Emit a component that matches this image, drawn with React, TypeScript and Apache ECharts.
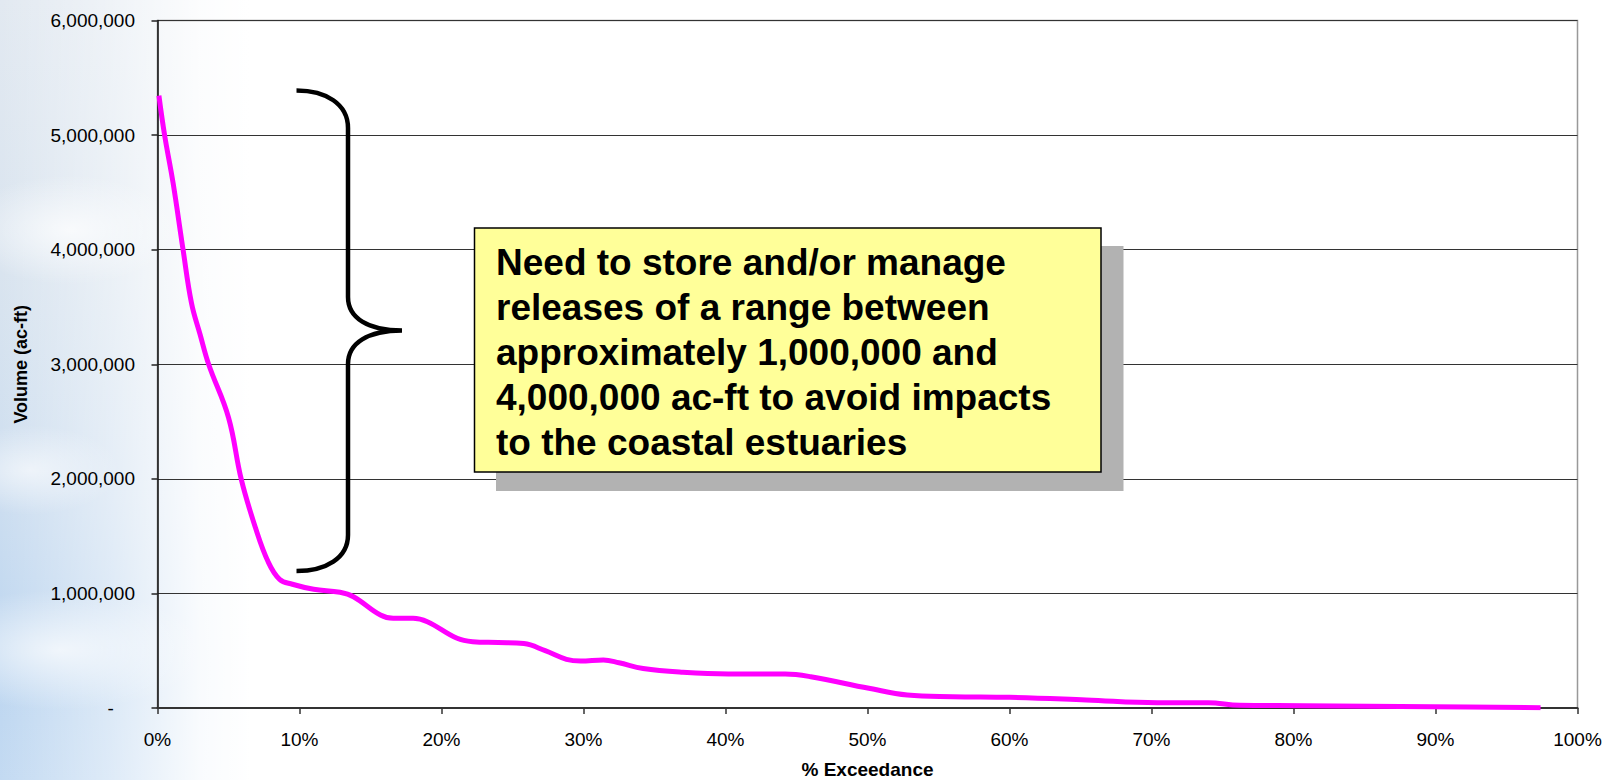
import React, { useEffect, useRef } from "react";
import * as echarts from "echarts";

// ---- data ----
const exceedancePct = [
  0.1, 0.5, 1.1, 1.8, 2.4, 3.0, 3.6, 5.0, 5.9, 6.9, 7.8, 8.6, 9.5, 11.0, 12.85,
  13.8, 15.7, 16.6, 18.0, 19.0, 21.1, 22.2, 24.0, 25.8, 27.3, 28.8, 29.8, 31.4,
  32.5, 34.2, 37.0, 40.2, 44.2, 46.0, 50.1, 52.8, 56.0, 60.0, 65.4, 70.4, 74.0,
  76.2, 80.7, 89.8, 97.4,
];
const volumeAcFt = [
  5345000, 5000000, 4580000, 4000000, 3530000, 3260000, 3000000, 2535000, 1995000,
  1573000, 1274000, 1123000, 1080000, 1036000, 1010000, 971000, 811000, 783000,
  783000, 753000, 608000, 579000, 572000, 562000, 500000, 425000, 410000, 419000,
  395000, 345000, 312000, 297000, 297000, 273000, 172000, 113000, 99000, 93000,
  70000, 46000, 46000, 23000, 20000, 11000, 3000,
];
const yTitle = "Volume (ac-ft)";
const xTitle = "% Exceedance";
const noteLines = [
  "Need to store and/or manage",
  "releases of a range between",
  "approximately 1,000,000 and",
  "4,000,000 ac-ft to avoid impacts",
  "to the coastal estuaries",
];

const BRACE_D =
  "M296.5 90.5 C326 90.5 348 104 348 128 L348 297 C348 318 368 330.5 402 330.5 " +
  "C368 330.5 348 343 348 364 L348 535 C348 558 326 571 296.5 571";
echarts.graphic.registerShape("brace", echarts.graphic.extendPath(BRACE_D, {}));

const FONT = "Arial, 'Liberation Sans', Helvetica, sans-serif";
const NB = "\u00A0";

export default function App() {
  const ref = useRef<HTMLDivElement>(null);

  useEffect(() => {
    document.body.style.margin = "0";
    if (!ref.current) return;
    const chart = echarts.init(ref.current, null, { renderer: "svg" });
    const data = exceedancePct.map((x, i) => [x, volumeAcFt[i]]);
    chart.setOption({
      animation: false,
      backgroundColor: "transparent",
      grid: {
        left: 157.5,
        right: 26.5,
        top: 20.5,
        bottom: 72,
        containLabel: false,
        outerBoundsMode: "none",
        show: true,
        borderColor: "#999999",
        borderWidth: 1.5,
        backgroundColor: "transparent",
      },
      xAxis: {
        type: "value",
        min: 0,
        max: 100,
        interval: 10,
        name: xTitle,
        nameLocation: "middle",
        nameGap: 52,
        nameTextStyle: { fontFamily: FONT, fontWeight: "bold", fontSize: 19, color: "#000" },
        axisLine: { show: true, onZero: false, lineStyle: { color: "#333", width: 2 } },
        axisTick: { show: true, length: 6, lineStyle: { color: "#333", width: 1.5 } },
        axisLabel: {
          margin: 22,
          fontFamily: FONT,
          fontSize: 19,
          color: "#000",
          formatter: (v: number) => `${v}%`,
        },
        splitLine: { show: false },
      },
      yAxis: {
        type: "value",
        min: 0,
        max: 6000000,
        interval: 1000000,
        name: yTitle,
        nameLocation: "middle",
        nameGap: 128,
        nameRotate: 90,
        nameTextStyle: { fontFamily: FONT, fontWeight: "bold", fontSize: 18, color: "#000" },
        axisLine: { show: true, lineStyle: { color: "#111", width: 1.5 } },
        axisTick: { show: true, length: 6, lineStyle: { color: "#222", width: 1.5 } },
        axisLabel: {
          margin: 22.5,
          fontFamily: FONT,
          fontSize: 19,
          color: "#000",
          formatter: (v: number) => (v === 0 ? "-" + NB + NB + NB + NB : v.toLocaleString("en-US")),
        },
        splitLine: { show: true, lineStyle: { color: "#333", width: 1 } },
      },
      series: [
        {
          type: "line",
          data,
          smooth: 0.4,
          showSymbol: false,
          lineStyle: { color: "#FF00FF", width: 5 },
          z: 3,
        },
      ],
      graphic: [
        {
          type: "brace",
          x: 0,
          y: 0,
          z: 100,
          style: { stroke: "#000", lineWidth: 4.5, fill: "none" },
        },
        {
          type: "rect",
          z: 100,
          shape: { x: 496, y: 246, width: 627.5, height: 245 },
          style: { fill: "#B2B2B2" },
        },
        {
          type: "rect",
          z: 101,
          shape: { x: 474.5, y: 228, width: 626.5, height: 244 },
          style: { fill: "#FFFF99", stroke: "#000", lineWidth: 1.5 },
        },
        {
          type: "text",
          z: 102,
          x: 496,
          y: 239.5,
          style: {
            text: noteLines.join("\n"),
            font: `bold 37px ${FONT}`,
            fill: "#000",
            lineHeight: 45,
            verticalAlign: "top",
            align: "left",
          },
        },
      ],
    });
    return () => chart.dispose();
  }, []);

  return (
    <div
      ref={ref}
      style={{
        position: "fixed",
        left: 0,
        top: 0,
        width: 1604,
        height: 780,
        background:
          "radial-gradient(ellipse 110px 55px at 70px 230px, rgba(255,255,255,0.75), rgba(255,255,255,0))," +
          "radial-gradient(ellipse 90px 45px at 30px 470px, rgba(255,255,255,0.6), rgba(255,255,255,0))," +
          "radial-gradient(ellipse 150px 60px at 60px 650px, rgba(255,255,255,0.7), rgba(255,255,255,0))," +
          "linear-gradient(to right, rgba(255,255,255,0) 0px, rgba(255,255,255,0.45) 110px, rgba(255,255,255,0.9) 200px, #ffffff 250px)," +
          "linear-gradient(to bottom, #e2e9f1 0%, #d9e4ef 35%, #cfdff0 60%, #bdd6f0 85%, #c3daf2 100%)",
      }}
    />
  );
}
